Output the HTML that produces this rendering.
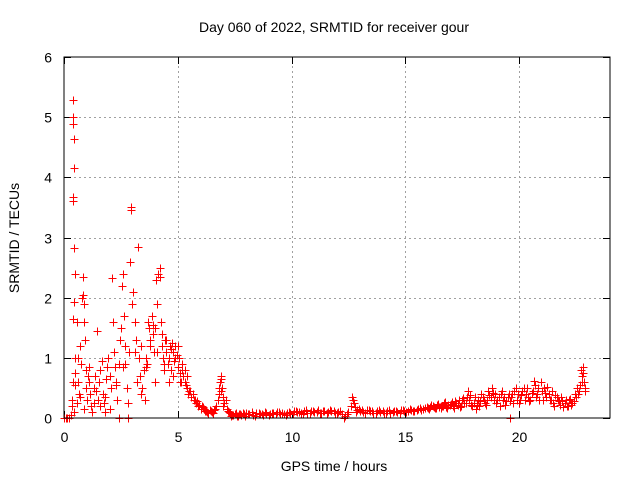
<!DOCTYPE html>
<html><head><meta charset="utf-8">
<style>
body{margin:0;background:#fff;}
svg{display:block;font-family:"Liberation Sans",sans-serif;}
</style></head>
<body>
<svg id="chart" width="640" height="480" viewBox="0 0 640 480">
<rect width="640" height="480" fill="#fff"/>
<text x="334" y="32" font-size="14" text-anchor="middle" fill="#000">Day 060 of 2022, SRMTID for receiver gour</text>
<text transform="translate(19,238) rotate(-90)" font-size="14" text-anchor="middle" fill="#000">SRMTID / TECUs</text>
<text x="334" y="471" font-size="14" text-anchor="middle" fill="#000">GPS time / hours</text>
<g id="grid"></g>
<g id="ticks"></g>
<path id="marks" fill="none" stroke="#f00" stroke-width="1"/>
<rect x="64" y="57" width="546" height="361" fill="none" stroke="#000" stroke-width="1"/>
</svg>
<script>
const xTicks=[0,5,10,15,20];
const yTicks=[0,1,2,3,4,5,6];
const times=[0.02,0.08,0.14,0.2,0.3,0.35,0.38,0.4,0.4,0.4,0.42,0.42,0.38,0.4,0.45,0.5,0.45,0.4,0.48,0.5,0.35,0.42,0.5,0.55,0.6,0.62,0.65,0.7,0.75,0.8,0.82,0.85,0.88,0.9,0.92,0.95,0.98,1.0,1.05,1.1,1.15,1.2,
1.25,1.3,1.35,1.4,1.45,1.5,1.55,1.6,1.65,1.7,1.75,1.8,1.85,1.9,1.95,2.0,2.05,2.1,2.15,2.2,2.25,2.3,2.35,2.4,2.45,2.5,2.55,2.6,2.65,2.7,2.75,2.8,2.85,2.9,2.95,2.95,3.0,
3.05,3.1,3.15,3.2,3.25,3.3,3.35,3.4,3.45,3.5,3.55,3.6,3.65,3.7,3.75,3.8,3.85,3.9,3.95,4.0,4.05,4.1,4.15,4.2,4.2,4.25,4.3,4.35,4.4,4.45,4.5,4.55,4.6,4.65,4.7,4.75,4.8,4.85,4.9,4.95,5.0,5.05,5.1,5.15,5.2,5.25,5.3,5.35,5.4,5.45,5.5,
5.6,5.7,5.8,5.9,6.0,6.1,6.2,6.3,6.4,6.5,6.6,6.7,6.8,6.85,6.9,6.95,7.0,7.05,7.1,7.2,7.3,7.4,7.5,7.6,7.7,7.8,7.9,8.0,
8.15,8.3,8.45,8.6,8.75,8.9,9.05,9.2,9.35,9.5,9.65,9.8,9.95,10.1,10.25,10.4,10.55,10.7,10.85,11.0,11.15,11.3,11.45,11.6,11.75,11.9,12.05,12.2,12.35,12.5,
12.6,12.7,12.75,12.8,12.9,13.0,13.15,13.3,13.45,13.6,13.75,13.9,14.05,14.2,14.35,14.5,14.65,14.8,14.95,15.1,15.25,15.4,15.55,15.7,15.85,16.0,
16.1,16.2,16.3,16.4,16.5,16.6,16.7,16.8,16.9,17.0,17.1,17.2,17.3,17.4,17.5,17.6,17.7,17.75,17.8,17.9,18.0,18.1,18.2,18.3,18.4,18.5,18.6,18.7,18.8,18.85,18.9,19.0,19.1,19.2,19.3,19.4,19.5,19.6,19.7,19.8,19.9,20.0,20.1,20.2,20.3,20.4,20.5,20.6,20.7,20.8,20.9,21.0,21.1,21.2,21.3,21.4,21.5,21.6,21.7,21.8,21.9,22.0,22.1,22.2,22.3,22.4,22.5,22.6,22.7,22.75,22.8,22.85,22.9,
2.4,2.8,12.3,19.6];
const values=[0,0,0,0,0.05,0.3,0.6,5.28,5.0,4.88,4.63,4.15,3.68,3.6,2.83,2.4,1.93,1.65,1.0,0.55,0.2,0.1,0.75,1.6,1.0,0.6,0.4,1.2,0.9,2.0,2.35,2.05,1.9,1.6,1.3,0.8,0.5,0.3,0.7,0.85,0.4,0.2,
0.1,0.5,0.7,0.45,1.45,0.3,0.6,0.8,0.95,0.4,0.25,0.1,0.65,0.85,1.0,0.7,0.5,2.33,1.6,1.1,0.85,0.6,0.3,0.9,1.3,1.5,2.2,2.4,1.7,1.2,0.5,0.25,1.1,2.6,3.5,3.45,1.9,
2.1,1.6,1.3,0.6,2.85,1.0,0.7,1.2,0.5,0.8,0.3,1.0,0.9,1.6,1.5,1.3,1.7,1.4,1.1,0.6,2.3,1.9,2.4,2.5,2.35,1.6,1.2,1.0,0.8,1.3,1.1,0.9,0.6,1.2,0.8,1.25,1.1,0.95,1.2,1.05,0.85,1.0,0.75,0.6,0.9,0.7,0.8,0.55,0.5,0.4,0.45,
0.35,0.3,0.25,0.2,0.15,0.18,0.12,0.1,0.14,0.1,0.13,0.2,0.4,0.6,0.7,0.5,0.35,0.25,0.3,0.12,0.08,0.05,0.06,0.04,0.07,0.05,0.06,0.08,
0.06,0.05,0.08,0.07,0.05,0.09,0.06,0.08,0.1,0.07,0.06,0.09,0.08,0.11,0.1,0.08,0.12,0.09,0.11,0.1,0.13,0.09,0.11,0.1,0.12,0.08,0.1,0.06,0.03,0.1,
0.2,0.3,0.25,0.18,0.14,0.12,0.1,0.13,0.11,0.09,0.12,0.1,0.08,0.11,0.09,0.12,0.1,0.13,0.11,0.12,0.14,0.12,0.15,0.14,0.17,0.16,
0.18,0.2,0.16,0.22,0.19,0.2,0.25,0.18,0.22,0.24,0.2,0.28,0.22,0.18,0.3,0.25,0.35,0.45,0.3,0.22,0.25,0.15,0.3,0.28,0.35,0.25,0.3,0.38,0.5,0.42,0.3,0.25,0.35,0.4,0.3,0.22,0.35,0.28,0.4,0.45,0.3,0.25,0.38,0.5,0.4,0.35,0.3,0.45,0.55,0.4,0.3,0.45,0.5,0.35,0.4,0.3,0.25,0.38,0.3,0.22,0.28,0.25,0.2,0.3,0.22,0.28,0.35,0.4,0.55,0.7,0.85,0.6,0.45,
0,0,0,0];
const timesB=[0.55,0.7,0.9,1.1,1.3,1.6,1.8,2.0,2.3,2.6,2.7,3.1,3.4,3.6,3.8,3.9,4.0,4.1,
4.3,4.4,4.5,4.6,4.7,4.8,4.9,5.0,5.1,5.2,
5.3,5.4,5.55,5.65,5.75,5.85,5.95,6.05,6.15,6.25,
6.35,6.45,6.55,6.65,6.75,6.82,6.88,6.92,6.98,7.15,
7.25,7.35,7.45,7.55,7.65,7.75,7.85,7.95,8.1,8.25,
8.4,8.55,8.7,8.85,9.0,9.15,9.3,9.45,9.6,9.75,
9.9,10.05,10.2,10.35,10.5,10.65,10.8,10.95,11.1,11.25,
11.4,11.55,11.7,11.85,12.0,12.15,12.45,12.65,12.85,12.95,
13.1,13.25,13.4,13.55,13.7,13.85,14.0,14.15,14.3,14.45,
14.6,14.75,14.9,15.05,15.2,15.35,15.5,15.65,15.8,15.95,
16.05,16.15,16.25,16.35,16.45,16.55,16.65,16.75,16.85,16.95,
17.05,17.15,17.25,17.35,17.45,17.55,17.65,17.85,17.95,18.05,
18.15,18.25,18.35,18.45,18.55,18.65,18.75,18.95,19.05,19.15,
19.25,19.35,19.45,19.55,19.65,19.75,19.85,19.95,20.05,20.15,
20.25,20.35,20.45,20.55,20.65,20.75,20.85,20.95,21.05,21.15,
21.25,21.35,21.45,21.55,21.65,21.75,21.85,21.95,22.05,22.15,
22.25,22.35,22.45,22.55,22.65,22.72,22.78,22.82,22.88];
const valuesB=[0.25,0.35,0.15,0.6,0.25,0.2,0.35,0.15,0.55,0.85,0.9,1.1,0.4,0.85,1.2,1.55,1.5,1.1,
1.4,0.9,1.3,1.0,1.15,0.7,1.0,1.2,0.6,0.8,
0.6,0.7,0.45,0.4,0.3,0.28,0.22,0.2,0.15,0.12,
0.08,0.12,0.09,0.15,0.3,0.5,0.65,0.45,0.2,0.15,
0.1,0.03,0.05,0.08,0.03,0.06,0.09,0.04,0.07,0.1,
0.04,0.09,0.06,0.1,0.05,0.09,0.07,0.1,0.08,0.05,
0.1,0.07,0.12,0.1,0.07,0.13,0.08,0.12,0.1,0.08,
0.12,0.09,0.13,0.11,0.08,0.11,0.07,0.35,0.1,0.15,
0.13,0.08,0.14,0.12,0.08,0.13,0.11,0.08,0.13,0.1,
0.12,0.09,0.14,0.1,0.15,0.11,0.13,0.17,0.15,0.19,
0.15,0.22,0.18,0.16,0.24,0.17,0.2,0.26,0.17,0.21,
0.27,0.17,0.25,0.3,0.2,0.33,0.25,0.38,0.2,0.35,
0.22,0.2,0.4,0.3,0.22,0.45,0.35,0.4,0.3,0.2,
0.45,0.35,0.28,0.4,0.35,0.25,0.5,0.4,0.3,0.45,
0.3,0.5,0.28,0.42,0.62,0.35,0.5,0.6,0.3,0.42,
0.52,0.3,0.45,0.2,0.35,0.28,0.35,0.18,0.3,0.2,
0.32,0.25,0.4,0.5,0.45,0.8,0.6,0.75,0.5];

const X0=64,X1=610,Y0=418,Y1=57,XMAX=24,YMAX=6;
function xs(t){return X0+(X1-X0)*t/XMAX;}
function ys(v){return Y0-(Y0-Y1)*v/YMAX;}
const NS="http://www.w3.org/2000/svg";
const grid=document.getElementById('grid'),ticks=document.getElementById('ticks');
function line(p,x1,y1,x2,y2,stroke,dash,name){
  const l=document.createElementNS(NS,'line');
  l.setAttribute('x1',x1);l.setAttribute('y1',y1);l.setAttribute('x2',x2);l.setAttribute('y2',y2);
  l.setAttribute('stroke',stroke);l.setAttribute('stroke-width',1);
  if(dash)l.setAttribute('stroke-dasharray',dash);
  
  
  p.appendChild(l);
}
function label(x,y,s,anchor,name){
  const t=document.createElementNS(NS,'text');
  t.setAttribute('x',x);t.setAttribute('y',y);t.setAttribute('font-size',14);
  t.setAttribute('text-anchor',anchor);t.textContent=s;
  
  
  ticks.appendChild(t);
}
xTicks.forEach(t=>{const x=Math.round(xs(t))+0.5;
  if(t>0)line(grid,x,Y0,x,Y1,'#a0a0a0','2,3','x-gridline');
  line(ticks,x,Y0,x,Y0-7,'#000',null,'x-tick');line(ticks,x,Y1,x,Y1+7,'#000',null,'x-tick');
  label(x,442,String(t),'middle','x-tick-label');});
yTicks.forEach(v=>{const y=Math.round(ys(v))+0.5;
  if(v>0&&v<YMAX)line(grid,X0,y,X1,y,'#a0a0a0','2,3','y-gridline');
  line(ticks,X0,y,X0+7,y,'#000',null,'y-tick');line(ticks,X1,y,X1-7,y,'#000',null,'y-tick');
  label(52,y+5,String(v),'end','y-tick-label');});
const allT=times.concat(timesB),allV=values.concat(valuesB);
let d='';
for(let i=0;i<allT.length;i++){
  const x=Math.round(xs(allT[i]))+0.5,y=Math.round(ys(allV[i]))+0.5;
  d+=`M${x-4},${y}h8M${x},${y-4}v8`;
}
document.getElementById('marks').setAttribute('d',d);
</script>
</body></html>
